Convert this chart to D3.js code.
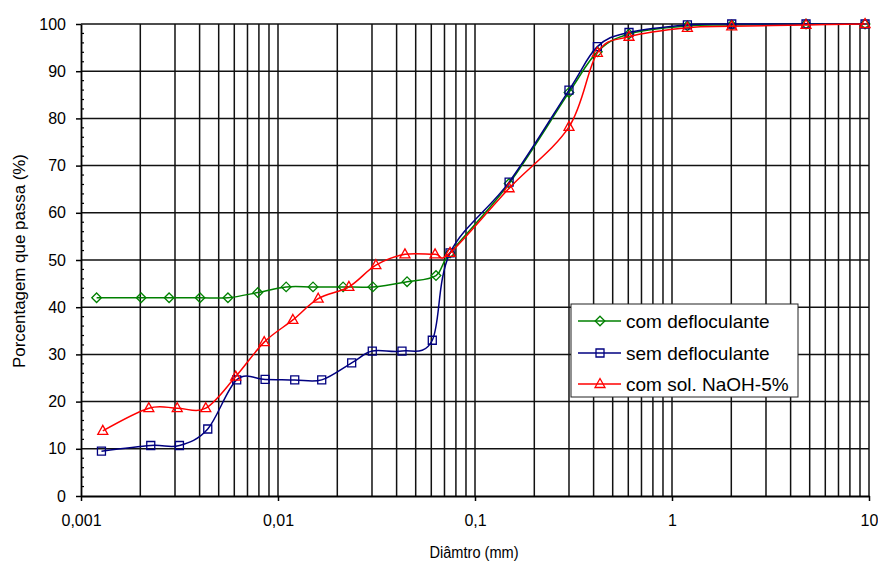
<!DOCTYPE html>
<html>
<head>
<meta charset="utf-8">
<script src="https://cdn.jsdelivr.net/npm/d3@7"></script>
<style>
  html, body { margin: 0; padding: 0; background: #fff; }
  svg { display: block; font-family: Arial, "Liberation Sans", sans-serif; }
</style>
</head>
<body>
<svg id="chart" width="878" height="563"></svg>
<script>
// Curva granulométrica: diâmetro (mm) x porcentagem que passa (%)
const diamComDefloc = [0.0012, 0.00202, 0.0028, 0.00402, 0.00557, 0.0079, 0.011, 0.01506, 0.0214, 0.0303, 0.0452, 0.0634, 0.0747, 0.149, 0.300, 0.418, 0.605, 1.197, 2.01, 4.79, 9.55];
const passaComDefloc = [42.0, 42.0, 42.0, 42.0, 42.0, 43.1, 44.3, 44.3, 44.3, 44.3, 45.4, 46.7, 51.5, 66.2, 85.5, 94.1, 97.9, 99.6, 99.8, 100, 100];

const diamSemDefloc = [0.00127, 0.00226, 0.00316, 0.0044, 0.00617, 0.0086, 0.01216, 0.01667, 0.02366, 0.0301, 0.0426, 0.0607, 0.0747, 0.149, 0.300, 0.418, 0.605, 1.197, 2.01, 4.79, 9.55];
const passaSemDefloc = [9.5, 10.7, 10.7, 14.2, 24.6, 24.7, 24.6, 24.6, 28.2, 30.7, 30.7, 33.0, 51.5, 66.5, 86.0, 95.2, 98.2, 99.8, 100, 100, 100];

const diamNaOH = [0.00129, 0.00221, 0.00308, 0.0043, 0.0061, 0.00851, 0.0119, 0.016, 0.0229, 0.0314, 0.0441, 0.0627, 0.0747, 0.149, 0.300, 0.418, 0.605, 1.197, 2.01, 4.79, 9.55];
const passaNaOH = [13.8, 18.6, 18.6, 18.6, 25.3, 32.6, 37.3, 41.8, 44.3, 48.9, 51.2, 51.2, 51.5, 65.2, 78.2, 93.9, 97.3, 99.2, 99.5, 99.8, 100];

const seriesNames = ["com defloculante", "sem defloculante", "com sol. NaOH-5%"];
const xTickValues = [0.001, 0.01, 0.1, 1, 10];
const xTickLabels = ["0,001", "0,01", "0,1", "1", "10"];
const yTickValues = [0, 10, 20, 30, 40, 50, 60, 70, 80, 90, 100];

const series = [
  { name: seriesNames[0], d: diamComDefloc, v: passaComDefloc, color: "#008000", marker: "diamond" },
  { name: seriesNames[1], d: diamSemDefloc, v: passaSemDefloc, color: "#000080", marker: "square" },
  { name: seriesNames[2], d: diamNaOH, v: passaNaOH, color: "#ff0000", marker: "triangle" }
];

const svg = d3.select("#chart");
const plotLeft = 81, plotRight = 869, plotTop = 24, plotBottom = 496;

const x = d3.scaleLog().domain([0.001, 10]).range([plotLeft, plotRight]);
const y = d3.scaleLinear().domain([0, 100]).range([plotBottom, plotTop]);

// Grid: vertical lines on every 1..9 × decade, horizontal every 10 %
const minorX = [];
for (let e = -3; e < 1; e++) {
  for (let m = 1; m <= 9; m++) minorX.push(m * Math.pow(10, e));
}
minorX.push(10);

const grid = svg.append("g").attr("stroke", "#111").attr("stroke-width", 1.5);
grid.selectAll("line.v").data(minorX.filter(d => d > 0.001)).join("line")
  .attr("class", "v")
  .attr("x1", d => x(d)).attr("x2", d => x(d))
  .attr("y1", plotTop).attr("y2", plotBottom);
grid.selectAll("line.h").data(yTickValues.filter(d => d > 0)).join("line")
  .attr("class", "h")
  .attr("x1", plotLeft).attr("x2", plotRight)
  .attr("y1", d => y(d)).attr("y2", d => y(d));

// Axes
const xAxis = d3.axisBottom(x).tickValues(xTickValues)
  .tickFormat((d, i) => xTickLabels[i]).tickSize(5).tickSizeOuter(0);
const gx = svg.append("g").attr("transform", `translate(0,${plotBottom})`).call(xAxis);
gx.select(".domain").attr("stroke", "#000").attr("stroke-width", 1.8);
gx.selectAll(".tick line").attr("stroke", "#000").attr("stroke-width", 1.5);
gx.selectAll(".tick text").attr("font-size", 16).attr("fill", "#000")
  .attr("dy", "1.4em").attr("font-family", "Arial, 'Liberation Sans', sans-serif");

const yAxis = d3.axisLeft(y).tickValues(yTickValues).tickSize(5).tickPadding(10).tickSizeOuter(0);
const gy = svg.append("g").attr("transform", `translate(${plotLeft},0)`).call(yAxis);
gy.select(".domain").attr("stroke", "#000").attr("stroke-width", 1.8);
gy.selectAll(".tick line").attr("stroke", "#000").attr("stroke-width", 1.5);
gy.selectAll(".tick text").attr("font-size", 16).attr("fill", "#000")
  .attr("font-family", "Arial, 'Liberation Sans', sans-serif");

// Minor y ticks every 2 %, drawn inside the plot
const minorY = d3.range(0, 101, 2).filter(d => d % 10 !== 0);
svg.append("g").selectAll("line").data(minorY).join("line")
  .attr("x1", plotLeft).attr("x2", plotLeft + 3)
  .attr("y1", d => y(d)).attr("y2", d => y(d))
  .attr("stroke", "#000").attr("stroke-width", 1.2);

// Axis titles
svg.append("text")
  .attr("x", 474).attr("y", 558)
  .attr("text-anchor", "middle")
  .attr("font-size", 16)
  .attr("textLength", 89).attr("lengthAdjust", "spacingAndGlyphs")
  .text("Diâmtro (mm)");

svg.append("text")
  .attr("transform", "translate(25,261) rotate(-90)")
  .attr("text-anchor", "middle")
  .attr("font-size", 17)
  .attr("textLength", 214).attr("lengthAdjust", "spacingAndGlyphs")
  .text("Porcentagem que passa (%)");

// Marker shapes
function markerPath(type) {
  if (type === "diamond") return "M0,-4.8L4.8,0L0,4.8L-4.8,0Z";
  if (type === "square") return "M-4,-4H4V4H-4Z";
  return "M0,-5.5L5,3.5H-5Z";
}

const line = d3.line().curve(d3.curveCardinal.tension(0));

// Curves and markers
series.forEach(s => {
  const pts = s.d.map((d, i) => [x(d), y(s.v[i])]);
  const g = svg.append("g");
  g.append("path")
    .attr("d", line(pts))
    .attr("fill", "none")
    .attr("stroke", s.color)
    .attr("stroke-width", 1.5);
  g.selectAll("path.mk").data(pts).join("path")
    .attr("class", "mk")
    .attr("transform", p => `translate(${p[0]},${p[1]})`)
    .attr("d", markerPath(s.marker))
    .attr("fill", "none")
    .attr("stroke", s.color)
    .attr("stroke-width", 1.3);
});

// Legend
const lg = svg.append("g");
lg.append("rect")
  .attr("x", 571).attr("y", 304).attr("width", 227).attr("height", 93)
  .attr("fill", "#fff").attr("stroke", "#222").attr("stroke-width", 1);
const legendY = [321, 353, 384];
series.forEach((s, i) => {
  const yy = legendY[i];
  lg.append("line")
    .attr("x1", 578).attr("x2", 621).attr("y1", yy).attr("y2", yy)
    .attr("stroke", s.color).attr("stroke-width", 1.5);
  lg.append("path")
    .attr("transform", `translate(600,${yy})`)
    .attr("d", markerPath(s.marker))
    .attr("fill", "none").attr("stroke", s.color).attr("stroke-width", 1.3);
  lg.append("text")
    .attr("x", 626).attr("y", yy)
    .attr("dy", "0.36em")
    .attr("font-size", 19)
    .attr("fill", "#000")
    .text(s.name);
});
</script>
</body>
</html>
